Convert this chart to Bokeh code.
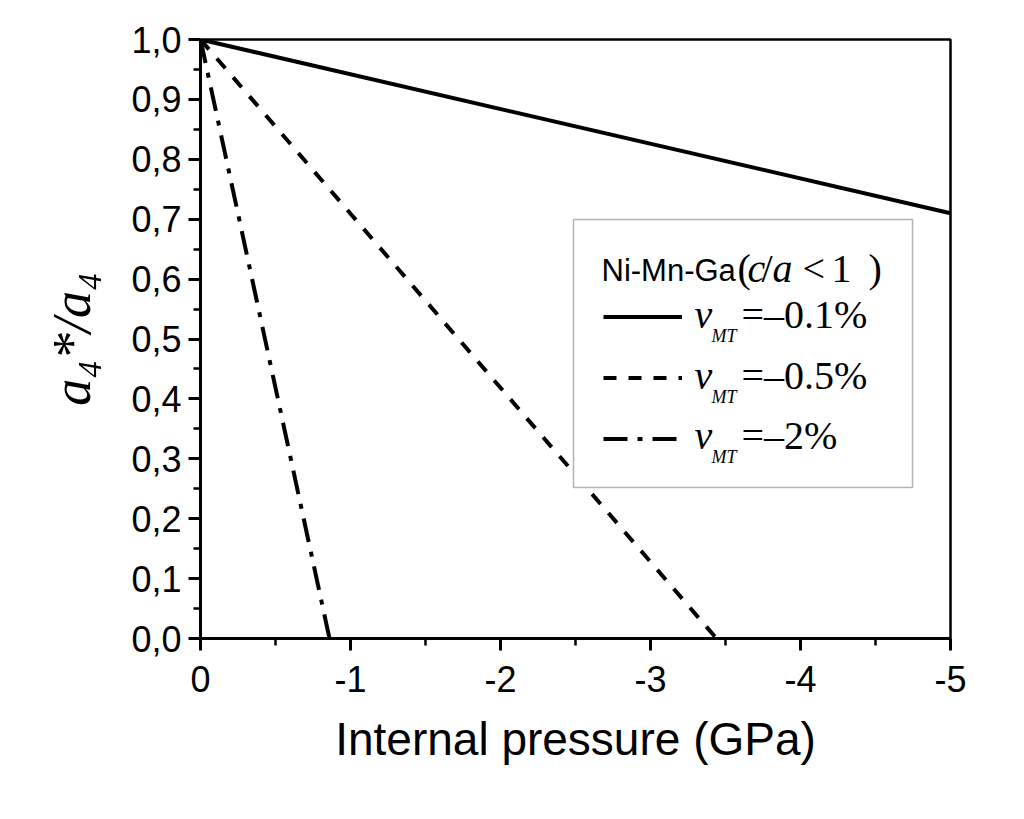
import numpy as np
from bokeh.plotting import figure
from bokeh.models import Range1d, FixedTicker, Label, BoxAnnotation, Legend, LegendItem
from bokeh.embed import file_html
from bokeh.resources import INLINE

# ---------------- data ----------------
pressure_01 = [0.0, -5.0]
ratio_01 = [1.0, 0.71]
pressure_05 = [0.0, -3.44]
ratio_05 = [1.0, 0.0]
pressure_2 = [0.0, -0.86]
ratio_2 = [1.0, 0.0]

x_ticks = [0, -1, -2, -3, -4, -5]
x_tick_labels = ["0", "-1", "-2", "-3", "-4", "-5"]
x_minor = [-0.5, -1.5, -2.5, -3.5, -4.5]
y_ticks = [0.0, 0.1, 0.2, 0.3, 0.4, 0.5, 0.6, 0.7, 0.8, 0.9, 1.0]
y_tick_labels = ["0,0", "0,1", "0,2", "0,3", "0,4", "0,5", "0,6", "0,7", "0,8", "0,9", "1,0"]
y_minor = [0.05, 0.15, 0.25, 0.35, 0.45, 0.55, 0.65, 0.75, 0.85, 0.95]

series_values = ["=\u20130.1%", "=\u20130.5%", "=\u20132%"]
legend_title = "Ni-Mn-Ga"
x_label = "Internal pressure (GPa)"
y_label = "a\u2084*/a\u2084"

# ---------------- layout ----------------
W, H = 1000, 790
FL, FR, FT, FB = 200, 950, 39, 638      # frame edges on the canvas
X0, X1, Y0, Y1 = 0.0, -5.0, 0.0, 1.0

def dx(cx):
    return X0 + (cx - FL) / (FR - FL) * (X1 - X0)

def dy(cy):
    return Y0 + (FB - cy) / (FB - FT) * (Y1 - Y0)

p = figure(width=W, height=H, output_backend="svg", toolbar_location=None,
           x_range=Range1d(X0, X1), y_range=Range1d(Y0, Y1),
           min_border_left=FL, min_border_right=W - FR,
           min_border_top=FT, min_border_bottom=H - FB)
p.background_fill_color = "white"
p.border_fill_color = "white"
p.outline_line_color = "black"
p.outline_line_width = 2.5
p.xgrid.visible = False
p.ygrid.visible = False

for ax in (p.xaxis[0], p.yaxis[0]):
    ax.axis_line_width = 3
    ax.axis_line_color = "black"
    ax.major_tick_line_width = 3
    ax.major_tick_line_color = "black"
    ax.minor_tick_line_width = 2.5
    ax.minor_tick_line_color = "black"
    ax.major_tick_out = 12
    ax.major_tick_in = 0
    ax.minor_tick_out = 7
    ax.minor_tick_in = 0
    ax.major_label_text_font = "Liberation Sans"
    ax.major_label_text_font_size = "36px"
    ax.major_label_text_color = "black"

p.xaxis.ticker = FixedTicker(ticks=x_ticks, minor_ticks=x_minor)
p.xaxis.major_label_overrides = dict(zip(x_ticks, x_tick_labels))
p.xaxis.major_label_standoff = 15
p.xaxis.axis_label = x_label
p.xaxis.axis_label_text_font = "Liberation Sans"
p.xaxis.axis_label_text_font_size = "46px"
p.xaxis.axis_label_text_font_style = "normal"
p.xaxis.axis_label_text_color = "black"
p.xaxis.axis_label_standoff = 18

p.yaxis.ticker = FixedTicker(ticks=y_ticks, minor_ticks=y_minor)
p.yaxis.major_label_overrides = dict(zip(y_ticks, y_tick_labels))
p.yaxis.major_label_standoff = 7
p.yaxis.axis_label = y_label
p.yaxis.axis_label_text_font = "Liberation Serif"
p.yaxis.axis_label_text_font_size = "54px"
p.yaxis.axis_label_text_font_style = "italic"
p.yaxis.axis_label_text_color = "black"
p.yaxis.axis_label_standoff = 26

# ---------------- lines ----------------
r1 = p.line(pressure_01, ratio_01, line_color="black", line_width=4)
r2 = p.line(pressure_05, ratio_05, line_color="black", line_width=4, line_dash="13 12")
r3 = p.line(pressure_2, ratio_2, line_color="black", line_width=4, line_dash="24 10 5 10")

# ---------------- legend ----------------
p.add_layout(BoxAnnotation(left=dx(573), right=dx(912), top=dy(219), bottom=dy(487),
                           fill_color="white", fill_alpha=1.0,
                           line_color="black", line_width=1.5))

legend = Legend(items=[LegendItem(label=" ", renderers=[r]) for r in (r1, r2, r3)],
                location=(603 - FL, FB - 469), orientation="vertical",
                padding=0, margin=0, spacing=0, glyph_width=79, glyph_height=61,
                label_standoff=0, label_width=1, label_height=1,
                label_text_font_size="1px",
                border_line_alpha=0, background_fill_alpha=0)
p.add_layout(legend)

def lab(text, cx, baseline, font, size, style="normal"):
    # anchor at the middle of the text box: baseline - 0.34 em
    p.add_layout(Label(x=dx(cx), y=dy(baseline - 0.34 * size), text=text,
                       text_font=font, text_font_size=f"{size}px",
                       text_font_style=style, text_align="left",
                       text_baseline="middle", text_color="black"))

lab(legend_title, 601, 281, "Liberation Sans", 31)
lab("(", 737, 282, "Liberation Serif", 40)
lab("c", 747, 282, "Liberation Serif", 40, "italic")
lab("/", 761, 282, "Liberation Serif", 40)
lab("a", 772, 282, "Liberation Serif", 40, "italic")
lab("<", 802, 282, "Liberation Serif", 40)
lab("1", 831, 282, "Liberation Serif", 40)
lab(")", 868, 282, "Liberation Serif", 40)

row_baselines = [328, 389, 449]
for base, val in zip(row_baselines, series_values):
    lab("v", 694, base, "Liberation Serif", 40, "italic")
    lab("MT", 711, base + 14, "Liberation Serif", 18, "italic")
    lab(val, 741, base, "Liberation Serif", 40)

open("out.html", "w").write(file_html(p, INLINE))
